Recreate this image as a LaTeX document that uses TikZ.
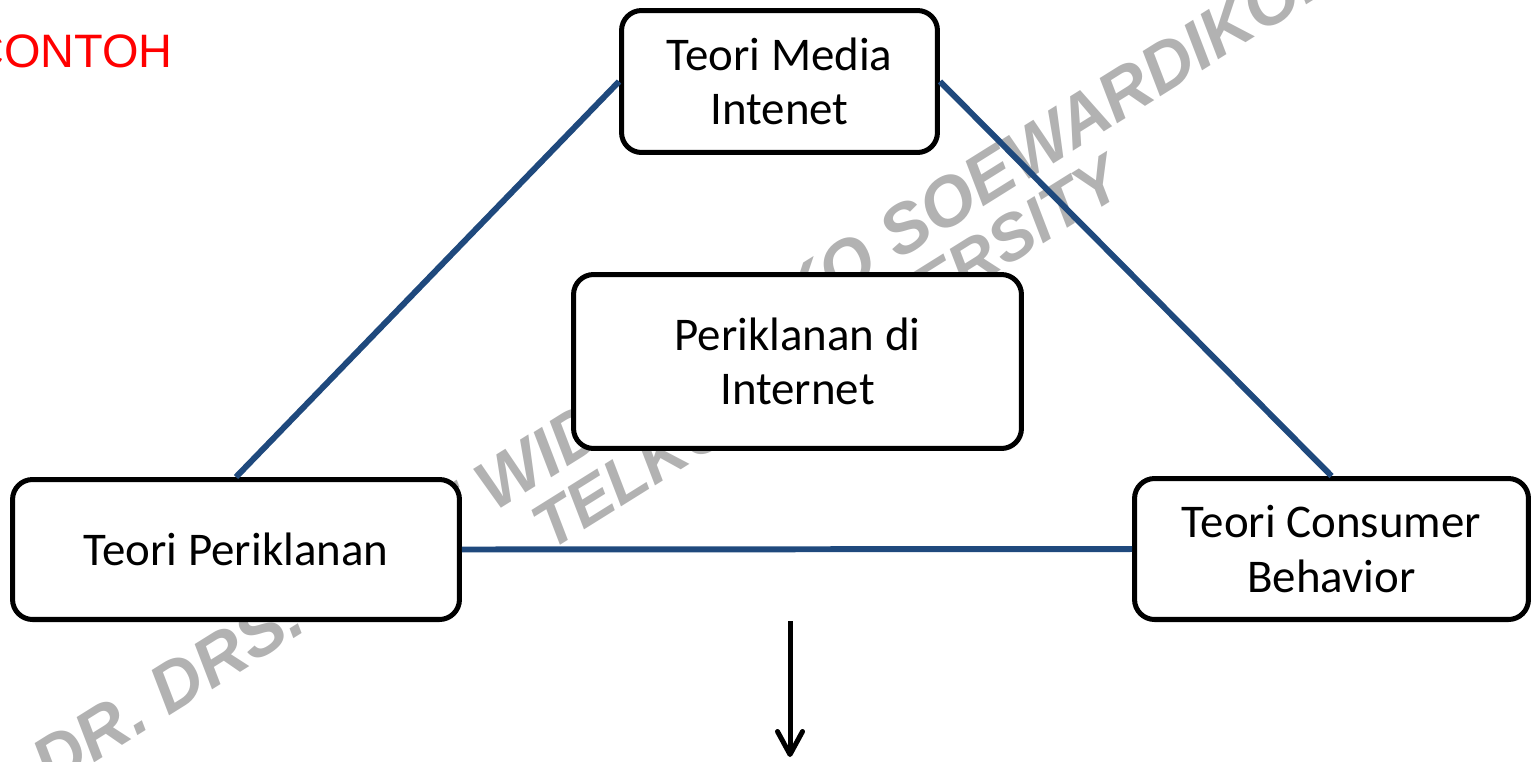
\documentclass[tikz,border=0pt]{standalone}
\usepackage{fontspec}
\setmainfont{Carlito}
\newfontfamily\contohfont{Liberation Sans}
\newfontfamily\wmfont{Liberation Sans}
\usetikzlibrary{arrows.meta}
\definecolor{birutua}{RGB}{31,73,125}

\begin{document}
\begin{tikzpicture}[x=0.02cm,y=0.02cm,line join=round,
	teori/.style={draw=black,line width=2.85pt,rounded corners=0.4cm,fill=white,align=center,inner sep=0pt,font=\fontsize{26.7}{31}\selectfont},
	garis/.style={draw=birutua,line width=3.4pt},
	wm/.style={text=black!30,rotate=32,anchor=base west,inner sep=0pt,font=\wmfont\bfseries\itshape}]
	\useasboundingbox (0,0) rectangle (1533,-761);
	\node[wm] (wm1) at (51,-790) {\fontsize{39.4}{42}\selectfont DR. DRS. DIDIT WIDIATMOKO SOEWARDIKOEN};
	\node[wm] (wm2) at (550,-552) {\fontsize{36.9}{40}\selectfont TELKOM UNIVERSITY};
	\node[anchor=base west,inner sep=0pt,text=red,font=\contohfont\fontsize{26.7}{31}\selectfont] (contoh) at (-30,-67) {CONTOH};
	\node[teori,minimum width=6.32cm,minimum height=2.84cm] (media) at (779.5,-81.5) {Teori Media\\Intenet};
	\node[teori,minimum width=8.96cm,minimum height=3.48cm] (iklan) at (797.5,-361.5) {Periklanan di\\Internet};
	\node[teori,minimum width=8.94cm,minimum height=2.8cm] (per) at (236,-549.5) {Teori Periklanan};
	\node[teori,minimum width=7.88cm,minimum height=2.82cm] (cons) at (1331.5,-549) {Teori Consumer\\Behavior};
	\draw[garis] (per.north) -- (media.west) (media.east) -- (cons.north) (per.east) -- (cons.west);
	\coordinate (pangkal) at (790,-621);
	\coordinate (ujung) at (790,-757);
	\draw[line width=2.85pt,-{Straight Barb[length=0.46cm,width=0.5cm,round]}] (pangkal) -- (ujung);
\end{tikzpicture}
\end{document}
